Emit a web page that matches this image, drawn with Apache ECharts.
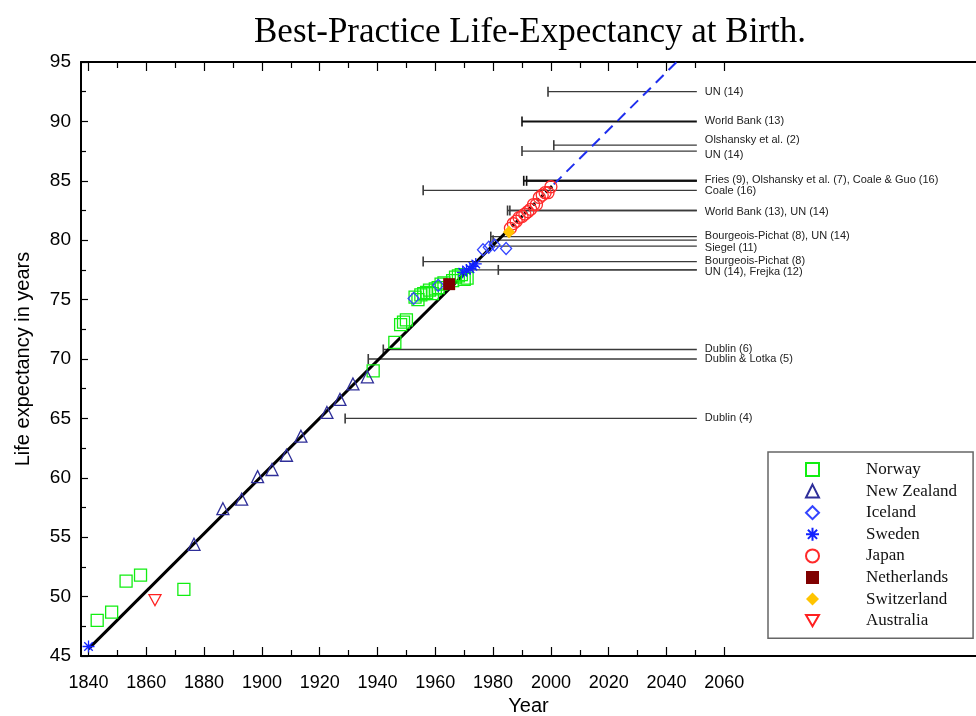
<!DOCTYPE html>
<html><head><meta charset="utf-8">
<script src="https://cdn.jsdelivr.net/npm/echarts@6/dist/echarts.min.js"></script>
<style>html,body{margin:0;padding:0;background:#fff}#c{width:976px;height:716px}</style>
</head><body><div id="c"></div>
<script>
// ---- tick labels ----
const xTickLabels = [1840,1860,1880,1900,1920,1940,1960,1980,2000,2020,2040,2060];
const xMinorTicks = [1850,1870,1890,1910,1930,1950,1970,1990,2010,2030,2050];
const yTickLabels = [45,50,55,60,65,70,75,80,85,90,95];

// ---- country series (year, life expectancy) ----
const norway = [[1843,48.0],[1848,48.7],[1853,51.3],[1858,51.8],[1873,50.6],[1938.5,69.0],[1946,71.4],
  [1948,72.9],[1949,73.1],[1950,73.3],[1953,75.2],[1954,75.0],[1955,75.4],[1956,75.5],[1957,75.6],
  [1958,75.8],[1959,75.5],[1960,75.9],[1961,76.0],[1962,76.3],[1963,76.4],[1966,76.6],[1967,76.9],
  [1968,77.0],[1969,77.1],[1970,76.7],[1971,76.8]];
const newZealand = [[1876.5,54.4],[1886.5,57.4],[1893,58.2],[1898.5,60.1],[1903.5,60.7],[1908.5,61.9],
  [1913.5,63.5],[1922.5,65.5],[1927,66.6],[1931.5,67.9],[1936.5,68.5]];
const iceland = [[1952.5,75.1],[1961,76.2],[1976.5,79.2],[1978.5,79.4],[1980.5,79.6],[1984.5,79.3]];
const sweden = [[1840,45.8],[1969.5,77.3],[1970.8,77.5],[1972,77.6],[1973,77.8],[1974,78.0]];
const japan = [[1986,81.0],[1987,81.4],[1988,81.6],[1989,81.9],[1990,82.0],[1991,82.2],[1992,82.4],
  [1993,82.6],[1994,83.0],[1995,83.0],[1996,83.6],[1997,83.8],[1998,84.0],[1999,84.0],[2000,84.5]];
const netherlands = [[1964.8,76.3]];
const switzerland = [[1985.5,80.7]];
const australia = [[1863,49.7]];

// ---- trend line pieces ----
const trendSolid = [[1840,45.6],[1985,80.8]];
const trendDotted = [[1985,80.8],[2001,84.7]];
const trendDashed = [[2001,84.7],[2043.5,95.0]];

// ---- asserted ceilings ----
const ceilingLevels = [92.5,90.0,88.0,87.5,85.0,85.0,84.2,82.5,82.5,80.3,80.0,79.5,78.2,77.5,77.5,70.8,70.0,65.0];
const ceilingStarts = [1999,1990,2001,1990,1990.6,1991.6,1955.8,1985,1985.8,1979.2,1980,1979,1955.8,1971,1981.8,1942,1936.8,1928.8];
const ceilingLabels = ['UN (14)','World Bank (13)','Olshansky et al. (2)','UN (14)',
  'Fries (9), Olshansky et al. (7), Coale & Guo (16)','','Coale (16)','World Bank (13), UN (14)','',
  'Bourgeois-Pichat (8), UN (14)','','Siegel (11)','Bourgeois-Pichat (8)','','UN (14), Frejka (12)',
  'Dublin (6)','Dublin & Lotka (5)','Dublin (4)'];
const ceilingEnd = 2050.5;
// styles (not data)
const ceilingWidths = [1.3,2,1.3,1.3,2,2,1.3,1.6,1.6,1.3,1.3,1.3,1.3,1.3,1.3,1.3,1.3,1.3];
const ceilingLabelDy = [0,0,-5,4,-1,0,1,1,0,-1,0,2,-1,0,2,-1,0,0];
const ceilingTickShown = [1,1,1,1,1,1,1,1,1,1,1,1,1,0,1,1,1,1];

const chart = echarts.init(document.getElementById('c'), null, {renderer:'canvas'});

const sans = 'Liberation Sans, Arial, sans-serif';
const serif = 'Liberation Serif, Times New Roman, serif';
const XMIN = 1837.4, XMAX = 2147.1;

const series = [];
ceilingLevels.forEach((lvl, i) => {
  const col = ceilingWidths[i] >= 2 ? '#111' : '#3a3a3a';
  series.push({
    type:'line', silent:true, z:1, animation:false,
    lineStyle:{color:col, width:ceilingWidths[i]},
    itemStyle:{color:col},
    data:[
      {value:[ceilingStarts[i], lvl], symbol: ceilingTickShown[i] ? 'rect' : 'none', symbolSize:[1.6,10]},
      {value:[ceilingEnd, lvl], symbol:'none'}
    ],
    endLabel:{show: ceilingLabels[i] !== '', distance:8, offset:[0, ceilingLabelDy[i]],
      formatter: ceilingLabels[i], fontFamily:sans, fontSize:11, color:'#222'}
  });
});

series.push({type:'line', silent:true, z:2, animation:false, symbol:'none', data:trendSolid,
  lineStyle:{color:'#000', width:3}});
series.push({type:'line', silent:true, z:2, animation:false, symbol:'none', data:trendDotted,
  lineStyle:{color:'#000', width:3, type:[3,3]}});
series.push({type:'line', silent:true, z:2, animation:false, symbol:'none', data:trendDashed,
  lineStyle:{color:'#1f2fee', width:2, type:[11,7]}});

const hollow = (c) => ({color:'rgba(0,0,0,0)', borderColor:c, borderWidth:1.3, opacity:1});
const starPath = 'path://M10,0L10,20M0,10L20,10M2.93,2.93L17.07,17.07M2.93,17.07L17.07,2.93';
const downTriPath = 'path://M0,0L20,0L10,17.32Z';

series.push(
  {name:'Norway', type:'scatter', z:3, data:norway, symbol:'rect', symbolSize:12, itemStyle:hollow('#11ee11')},
  {name:'New Zealand', type:'scatter', z:3, data:newZealand, symbol:'triangle', symbolSize:12, itemStyle:hollow('#2e2e99')},
  {name:'Iceland', type:'scatter', z:3, data:iceland, symbol:'diamond', symbolSize:[11,12], itemStyle:hollow('#3344ff')},
  {name:'Sweden', type:'scatter', z:3, data:sweden, symbol:starPath, symbolKeepAspect:true, symbolSize:12, itemStyle:hollow('#1122ff')},
  {name:'Japan', type:'scatter', z:3, data:japan, symbol:'circle', symbolSize:12, itemStyle:hollow('#ff2a2a')},
  {name:'Netherlands', type:'scatter', z:4, data:netherlands, symbol:'rect', symbolSize:12, itemStyle:{color:'#800000', opacity:1}},
  {name:'Switzerland', type:'scatter', z:4, data:switzerland, symbol:'diamond', symbolSize:[12,13], itemStyle:{color:'#ffc400', opacity:1}},
  {name:'Australia', type:'scatter', z:3, data:australia, symbol:downTriPath, symbolSize:[12,11], itemStyle:hollow('#ff2020')}
);

const baseX = {type:'value', min:XMIN, max:XMAX, splitLine:{show:false}};
const option = {
  backgroundColor:'#fff',
  animation:false,
  title:{text:'Best-Practice Life-Expectancy at Birth.', left:249, top:10,
    textStyle:{fontFamily:serif, fontSize:35, fontWeight:'normal', color:'#000'}},
  grid:{left:81, top:62, right:0, bottom:60, containLabel:false, outerBoundsMode:'none'},
  legend:{
    data:['Norway','New Zealand','Iceland','Sweden','Japan','Netherlands','Switzerland','Australia'],
    orient:'vertical', left:768, top:452, selectedMode:false,
    padding:[9,16,9,37], itemWidth:13, itemHeight:13, itemGap:4.6,
    borderColor:'#666', borderWidth:1.5, backgroundColor:'#fff',
    textStyle:{fontFamily:serif, fontSize:17, color:'#111', lineHeight:16, padding:[0,0,0,42]}
  },
  xAxis:[
    Object.assign({}, baseX, {position:'bottom', name:'Year', nameLocation:'middle', nameGap:40,
      nameTextStyle:{fontFamily:sans, fontSize:20, color:'#000'},
      axisLine:{show:true, onZero:false, lineStyle:{color:'#000', width:2}},
      axisTick:{show:true, inside:true, length:9, customValues:xTickLabels, lineStyle:{color:'#000', width:1.2}},
      axisLabel:{show:true, customValues:xTickLabels, margin:18, fontFamily:sans, fontSize:18, color:'#000',
        formatter:(v) => String(Math.round(v))}}),
    Object.assign({}, baseX, {position:'bottom',
      axisLine:{show:false, onZero:false},
      axisTick:{show:true, inside:true, length:6, customValues:xMinorTicks, lineStyle:{color:'#000', width:1.2}},
      axisLabel:{show:false}}),
    Object.assign({}, baseX, {position:'top',
      axisLine:{show:true, onZero:false, lineStyle:{color:'#000', width:2}},
      axisTick:{show:true, inside:true, length:9, customValues:xTickLabels, lineStyle:{color:'#000', width:1.2}},
      axisLabel:{show:false}}),
    Object.assign({}, baseX, {position:'top',
      axisLine:{show:false, onZero:false},
      axisTick:{show:true, inside:true, length:6, customValues:xMinorTicks, lineStyle:{color:'#000', width:1.2}},
      axisLabel:{show:false}})
  ],
  yAxis:[{
    type:'value', min:45, max:95, interval:5, position:'left',
    name:'Life expectancy in years', nameLocation:'middle', nameGap:48,
    nameTextStyle:{fontFamily:sans, fontSize:20, color:'#000'},
    splitLine:{show:false},
    axisLine:{show:true, onZero:false, lineStyle:{color:'#000', width:2}},
    axisTick:{show:true, inside:true, length:7, lineStyle:{color:'#000', width:1.2}},
    minorTick:{show:true, splitNumber:2, length:5, lineStyle:{color:'#000', width:1.2}},
    axisLabel:{margin:10, fontFamily:sans, fontSize:19, color:'#000', customValues:yTickLabels}
  }],
  series: series
};
chart.setOption(option);
</script></body></html>
